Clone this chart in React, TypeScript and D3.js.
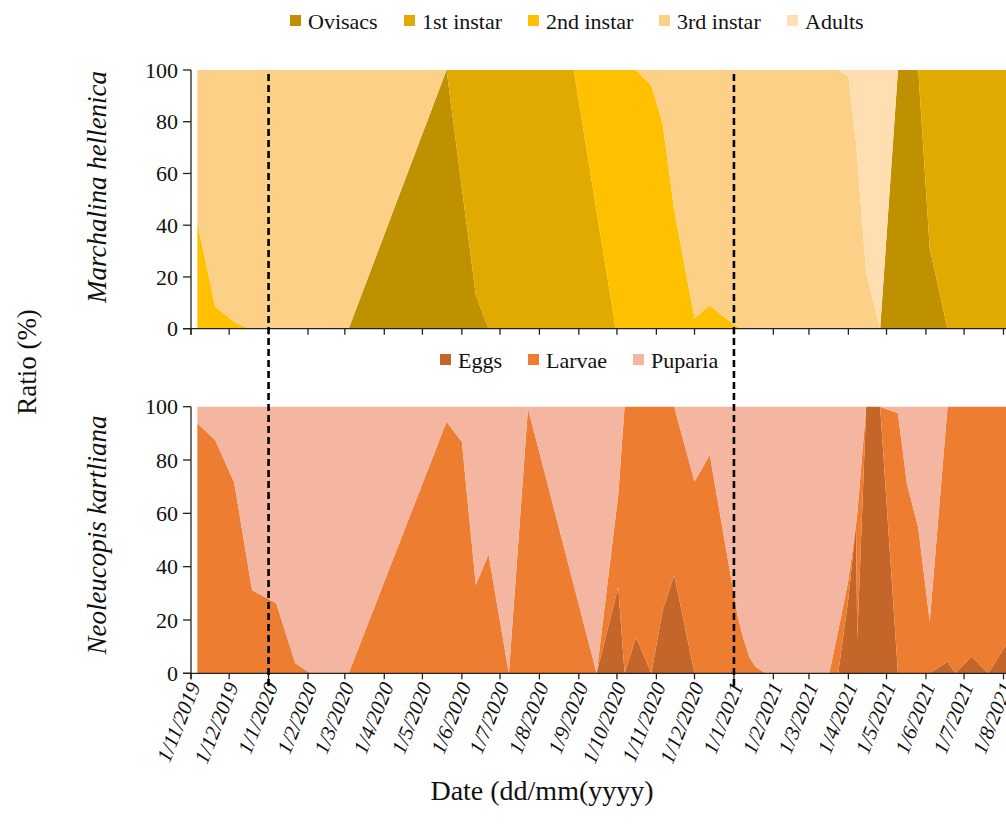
import React from 'react';
import * as d3 from 'd3';

const W = 1006;
const H = 834;

// ---- Marchalina hellenica (top panel) ----
const mhDates = ['2019-11-06','2019-11-20','2019-12-05','2019-12-17','2020-03-04','2020-05-20','2020-06-12','2020-06-22','2020-08-28','2020-09-30','2020-10-16','2020-10-28','2020-11-06','2020-11-15','2020-12-01','2020-12-13','2020-12-31','2021-01-07','2021-03-24','2021-04-01','2021-04-07','2021-04-15','2021-04-26','2021-05-10','2021-05-26','2021-06-04','2021-06-18','2021-08-03'];
const mhOvisacs = [0,0,0,0,0,100,13,0,0,0,0,0,0,0,0,0,0,0,0,0,0,0,0,100,100,31,0,0];
const mhInstar1 = [0,0,0,0,0,0,87,100,100,0,0,0,0,0,0,0,0,0,0,0,0,0,0,0,0,69,100,100];
const mhInstar2 = [41,8.5,2.7,0,0,0,0,0,0,100,100,94,79,46,4,9,2,0,0,0,0,0,0,0,0,0,0,0];
const mhInstar3 = [59,91.5,97.3,100,100,0,0,0,0,0,0,6,21,54,96,91,98,100,100,97.4,72,21.5,0,0,0,0,0,0];
const mhAdults = [0,0,0,0,0,0,0,0,0,0,0,0,0,0,0,0,0,0,0,2.6,28,78.5,100,0,0,0,0,0];

// ---- Neoleucopis kartliana (bottom panel) ----
const nkDates = ['2019-11-06','2019-11-20','2019-12-05','2019-12-19','2020-01-07','2020-01-22','2020-02-03','2020-03-04','2020-05-20','2020-06-01','2020-06-12','2020-06-22','2020-07-08','2020-07-23','2020-09-15','2020-10-02','2020-10-07','2020-10-16','2020-10-28','2020-11-06','2020-11-15','2020-12-01','2020-12-13','2020-12-30','2021-01-04','2021-01-08','2021-01-13','2021-01-18','2021-01-26','2021-03-17','2021-03-24','2021-04-01','2021-04-07','2021-04-08','2021-04-15','2021-04-26','2021-05-10','2021-05-17','2021-05-26','2021-06-04','2021-06-18','2021-06-24','2021-07-07','2021-07-20','2021-08-03'];
const nkEggs = [0,0,0,0,0,0,0,0,0,0,0,0,0,0,0,32.5,0,13.5,0,23.7,36.9,0,0,0,0,0,0,0,0,0,0,28,55.6,13,100,100,0,0,0,0,4.4,0,6.3,0,10.6];
const nkLarvae = [93.8,87.5,71.6,31.2,26.3,3.8,0,0,94.4,86.9,33.1,44.7,0,99.4,0,34.4,100,86.5,100,76.3,63.1,71.9,81.9,35,21.2,13.7,6.2,2.5,0,0,16,7,0,47,0,0,97.5,71.3,54.4,19.4,95.6,100,93.7,100,89.4];
const nkPuparia = [6.2,12.5,28.4,68.8,73.7,96.2,100,100,5.6,13.1,66.9,55.3,100,0.6,100,33.1,0,0,0,0,0,28.1,18.1,65,78.8,86.3,93.8,97.5,100,100,84,65,44.4,40,0,0,2.5,28.7,45.6,80.6,0,0,0,0,0];

const mhKeys = ['Ovisacs', '1st instar', '2nd instar', '3rd instar', 'Adults'];
const mhColors = ['#BF9000', '#E1AA00', '#FFC000', '#FDD088', '#FFDFB2'];
const nkKeys = ['Eggs', 'Larvae', 'Puparia'];
const nkColors = ['#C4662A', '#ED7D31', '#F4B6A0'];

const yTicks = [0, 20, 40, 60, 80, 100];
const monthTicks = ['2019-11-01','2019-12-01','2020-01-01','2020-02-01','2020-03-01','2020-04-01','2020-05-01','2020-06-01','2020-07-01','2020-08-01','2020-09-01','2020-10-01','2020-11-01','2020-12-01','2021-01-01','2021-02-01','2021-03-01','2021-04-01','2021-05-01','2021-06-01','2021-07-01','2021-08-01'];
const dashedDates = ['2020-01-01', '2021-01-01'];

const parse = d3.timeParse('%Y-%m-%d');
const fmt = (d: Date) => `${d.getDate()}/${d.getMonth() + 1}/${d.getFullYear()}`;

const FONT = '"Liberation Serif", "Times New Roman", serif';

const x = d3.scaleTime()
  .domain([parse('2019-11-01') as Date, parse('2021-08-01') as Date])
  .range([191, 1003.5]);

const yTop = d3.scaleLinear().domain([0, 100]).range([328.7, 70]);
const yBot = d3.scaleLinear().domain([0, 100]).range([673.3, 406.7]);

function buildRows(dates: string[], keys: string[], series: number[][]) {
  return dates.map((ds, i) => {
    const r: any = { date: parse(ds) };
    keys.forEach((k, j) => { r[k] = series[j][i]; });
    return r;
  });
}

function Areas({ rows, keys, colors, y }: any) {
  const stack = d3.stack().keys(keys);
  const layers = stack(rows);
  const area = d3.area<any>()
    .x((d: any) => x(d.data.date))
    .y0((d: any) => y(d[0]))
    .y1((d: any) => y(d[1]))
    .curve(d3.curveLinear);
  return (
    <g>
      {layers.map((l: any, i: number) => (
        <path key={keys[i]} d={area(l) as string} fill={colors[i]} />
      ))}
    </g>
  );
}

function Axes({ y, showLabels }: any) {
  const y0 = y(0);
  const y1 = y(100);
  return (
    <g>
      <line x1={191} x2={191} y1={y1} y2={y0 + 6} stroke="#222" strokeWidth={1.3} />
      <line x1={183} x2={W} y1={y0} y2={y0} stroke="#222" strokeWidth={1.3} />
      {yTicks.map(t => (
        <g key={t}>
          <line x1={183} x2={191} y1={y(t)} y2={y(t)} stroke="#222" strokeWidth={1.3} />
          <text x={178} y={y(t)} dy="0.35em" textAnchor="end" fontFamily={FONT} fontSize={22} fill="#111">{t}</text>
        </g>
      ))}
      {monthTicks.map(ds => {
        const d = parse(ds) as Date;
        const xx = x(d);
        return (
          <g key={ds}>
            <line x1={xx} x2={xx} y1={y0} y2={y0 + 6} stroke="#222" strokeWidth={1.3} />
            {showLabels && (
              <text
                transform={`translate(${xx + 3},${y0 + 10}) rotate(-68)`}
                textAnchor="end"
                dy="0.35em"
                fontFamily={FONT}
                fontStyle="italic"
                fontSize={21}
                fill="#111"
              >{fmt(d)}</text>
            )}
          </g>
        );
      })}
    </g>
  );
}

function Legend({ keys, colors, startX, baseline, widths }: any) {
  let cx = startX;
  const items: any[] = [];
  keys.forEach((k: string, i: number) => {
    items.push(
      <g key={k}>
        <rect x={cx} y={baseline - 14} width={11} height={11} fill={colors[i]} />
        <text x={cx + 18} y={baseline} fontFamily={FONT} fontSize={22} fill="#111">{k}</text>
      </g>
    );
    cx += 18 + widths[i] + 26;
  });
  return <g>{items}</g>;
}

export default function App() {
  const mhRows = buildRows(mhDates, mhKeys, [mhOvisacs, mhInstar1, mhInstar2, mhInstar3, mhAdults]);
  const nkRows = buildRows(nkDates, nkKeys, [nkEggs, nkLarvae, nkPuparia]);
  return (
    <svg width={W} height={H} style={{ position: 'absolute', left: 0, top: 0, background: '#fff' }}>
      <rect x={0} y={0} width={W} height={H} fill="#fff" />
      <Areas rows={mhRows} keys={mhKeys} colors={mhColors} y={yTop} />
      <Areas rows={nkRows} keys={nkKeys} colors={nkColors} y={yBot} />
      <Axes y={yTop} showLabels={false} />
      <Axes y={yBot} showLabels={true} />
      {dashedDates.map(ds => {
        const xx = x(parse(ds) as Date);
        return <line key={ds} x1={xx} x2={xx} y1={74} y2={690} stroke="#000" strokeWidth={2.6} strokeDasharray="7,4" />;
      })}
      <Legend keys={mhKeys} colors={mhColors} startX={290} baseline={29} widths={[70, 80, 87, 84, 59]} />
      <Legend keys={nkKeys} colors={nkColors} startX={440} baseline={368} widths={[44, 61, 67]} />
      <text transform="translate(106,187) rotate(-90)" textAnchor="middle" fontFamily={FONT} fontStyle="italic" fontSize={27} fill="#111">Marchalina hellenica</text>
      <text transform="translate(106,535) rotate(-90)" textAnchor="middle" fontFamily={FONT} fontStyle="italic" fontSize={27} fill="#111">Neoleucopis kartliana</text>
      <text transform="translate(36,362) rotate(-90)" textAnchor="middle" fontFamily={FONT} fontSize={27} fill="#111">Ratio (%)</text>
      <text x={542} y={800} textAnchor="middle" fontFamily={FONT} fontSize={28} fill="#111">Date (dd/mm(yyyy)</text>
    </svg>
  );
}
